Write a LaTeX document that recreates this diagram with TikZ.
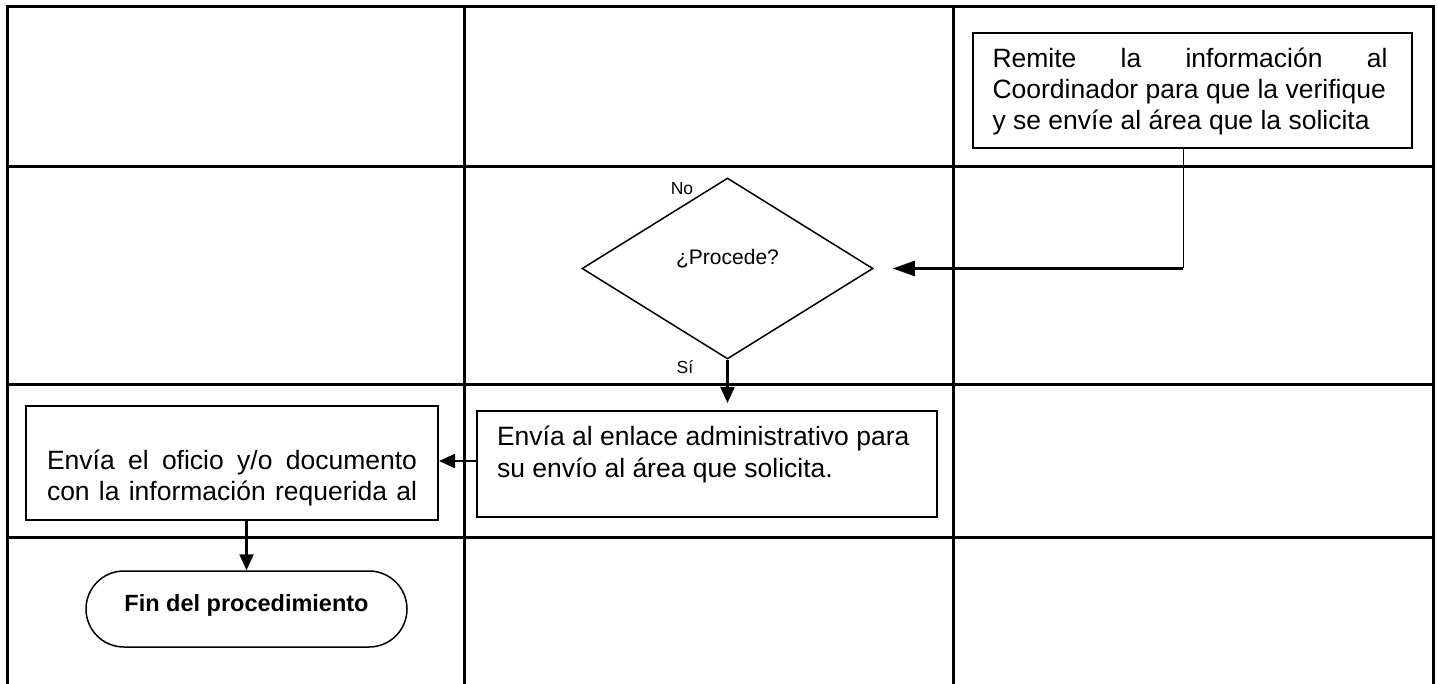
\documentclass[tikz,border=0pt]{standalone}
\usepackage{fontspec}
\setmainfont{Liberation Sans}
\usetikzlibrary{arrows.meta,shapes.geometric}
\begin{document}
\begin{tikzpicture}[x=1pt,y=-1pt,
  gridline/.style={line width=3pt, line cap=rect},
  box/.style={draw, line width=2pt, inner sep=0pt, rectangle},
  conn/.style={line width=2.2pt, -{Triangle[length=16pt,width=14pt]}},
  thinline/.style={line width=1pt},
  body/.style={font=\fontsize{26.5}{31}\selectfont},
  small/.style={font=\fontsize{17.5}{20}\selectfont, inner sep=0pt},
]
\useasboundingbox (0,0) rectangle (1438,684);
% grid
\foreach \x in {7.5,464,953,1433} \draw[gridline] (\x,7) -- (\x,690);
\foreach \y in {7,167,385,537} \draw[gridline] (7.5,\y) -- (1433,\y);

\node[box, body, minimum width=439pt, minimum height=115pt] (remite) at (1192.5,90.5)
  {\parbox[c][115pt][t]{400pt}{\raggedright\rule{0pt}{34.7pt}\makebox[395pt][s]{Remite la información al}\\
   Coordinador para que la verifique\\
   y se envíe al área que la solicita}};

\node[draw, diamond, line width=1.5pt, inner sep=0pt, minimum width=291pt, minimum height=181pt,
  font=\fontsize{21}{25}\selectfont, text height=15pt, text depth=22pt] (dec) at (727.5,268.5) {¿Procede?};
\node[small] (no) at (682,189) {No};
\node[small] (si) at (685,367) {Sí};

\node[box, body, minimum width=460pt, minimum height=106pt] (envia) at (707,464)
  {\parbox[c][106pt][t]{420pt}{\raggedright\rule{0pt}{35pt}Envía al enlace administrativo para\\
   su envío al área que solicita.}};

\node[box, body, minimum width=412pt, minimum height=114pt] (left) at (232,463)
  {\parbox[c][114pt][t]{370pt}{\raggedright\rule{0pt}{63.3pt}\makebox[370pt][s]{Envía el oficio y/o documento}\\
   \makebox[370pt][s]{con la información requerida al}}};

\node[draw, line width=1.5pt, rounded corners=38pt, minimum width=321pt, minimum height=76pt, inner sep=0pt,
  font=\bfseries\fontsize{23.5}{27}\selectfont, text height=17pt, text depth=12pt] (fin) at (246.5,609) {Fin del procedimiento};

% connectors
\coordinate (bend) at (1183,268.5);
\draw[thinline] (remite.south -| bend) -- (bend);
\draw[conn, -{Triangle[length=22pt,width=15pt]}, shorten >=19pt] (bend) -- (dec.east);
\draw[conn, shorten >=7pt] (dec.south) -- (dec.south |- envia.north);
\draw[conn] ([yshift=3pt]envia.west) -- ([yshift=3pt]envia.west -| left.east);
\draw[conn] (left.south -| fin.north) -- (fin.north);
\end{tikzpicture}
\end{document}
